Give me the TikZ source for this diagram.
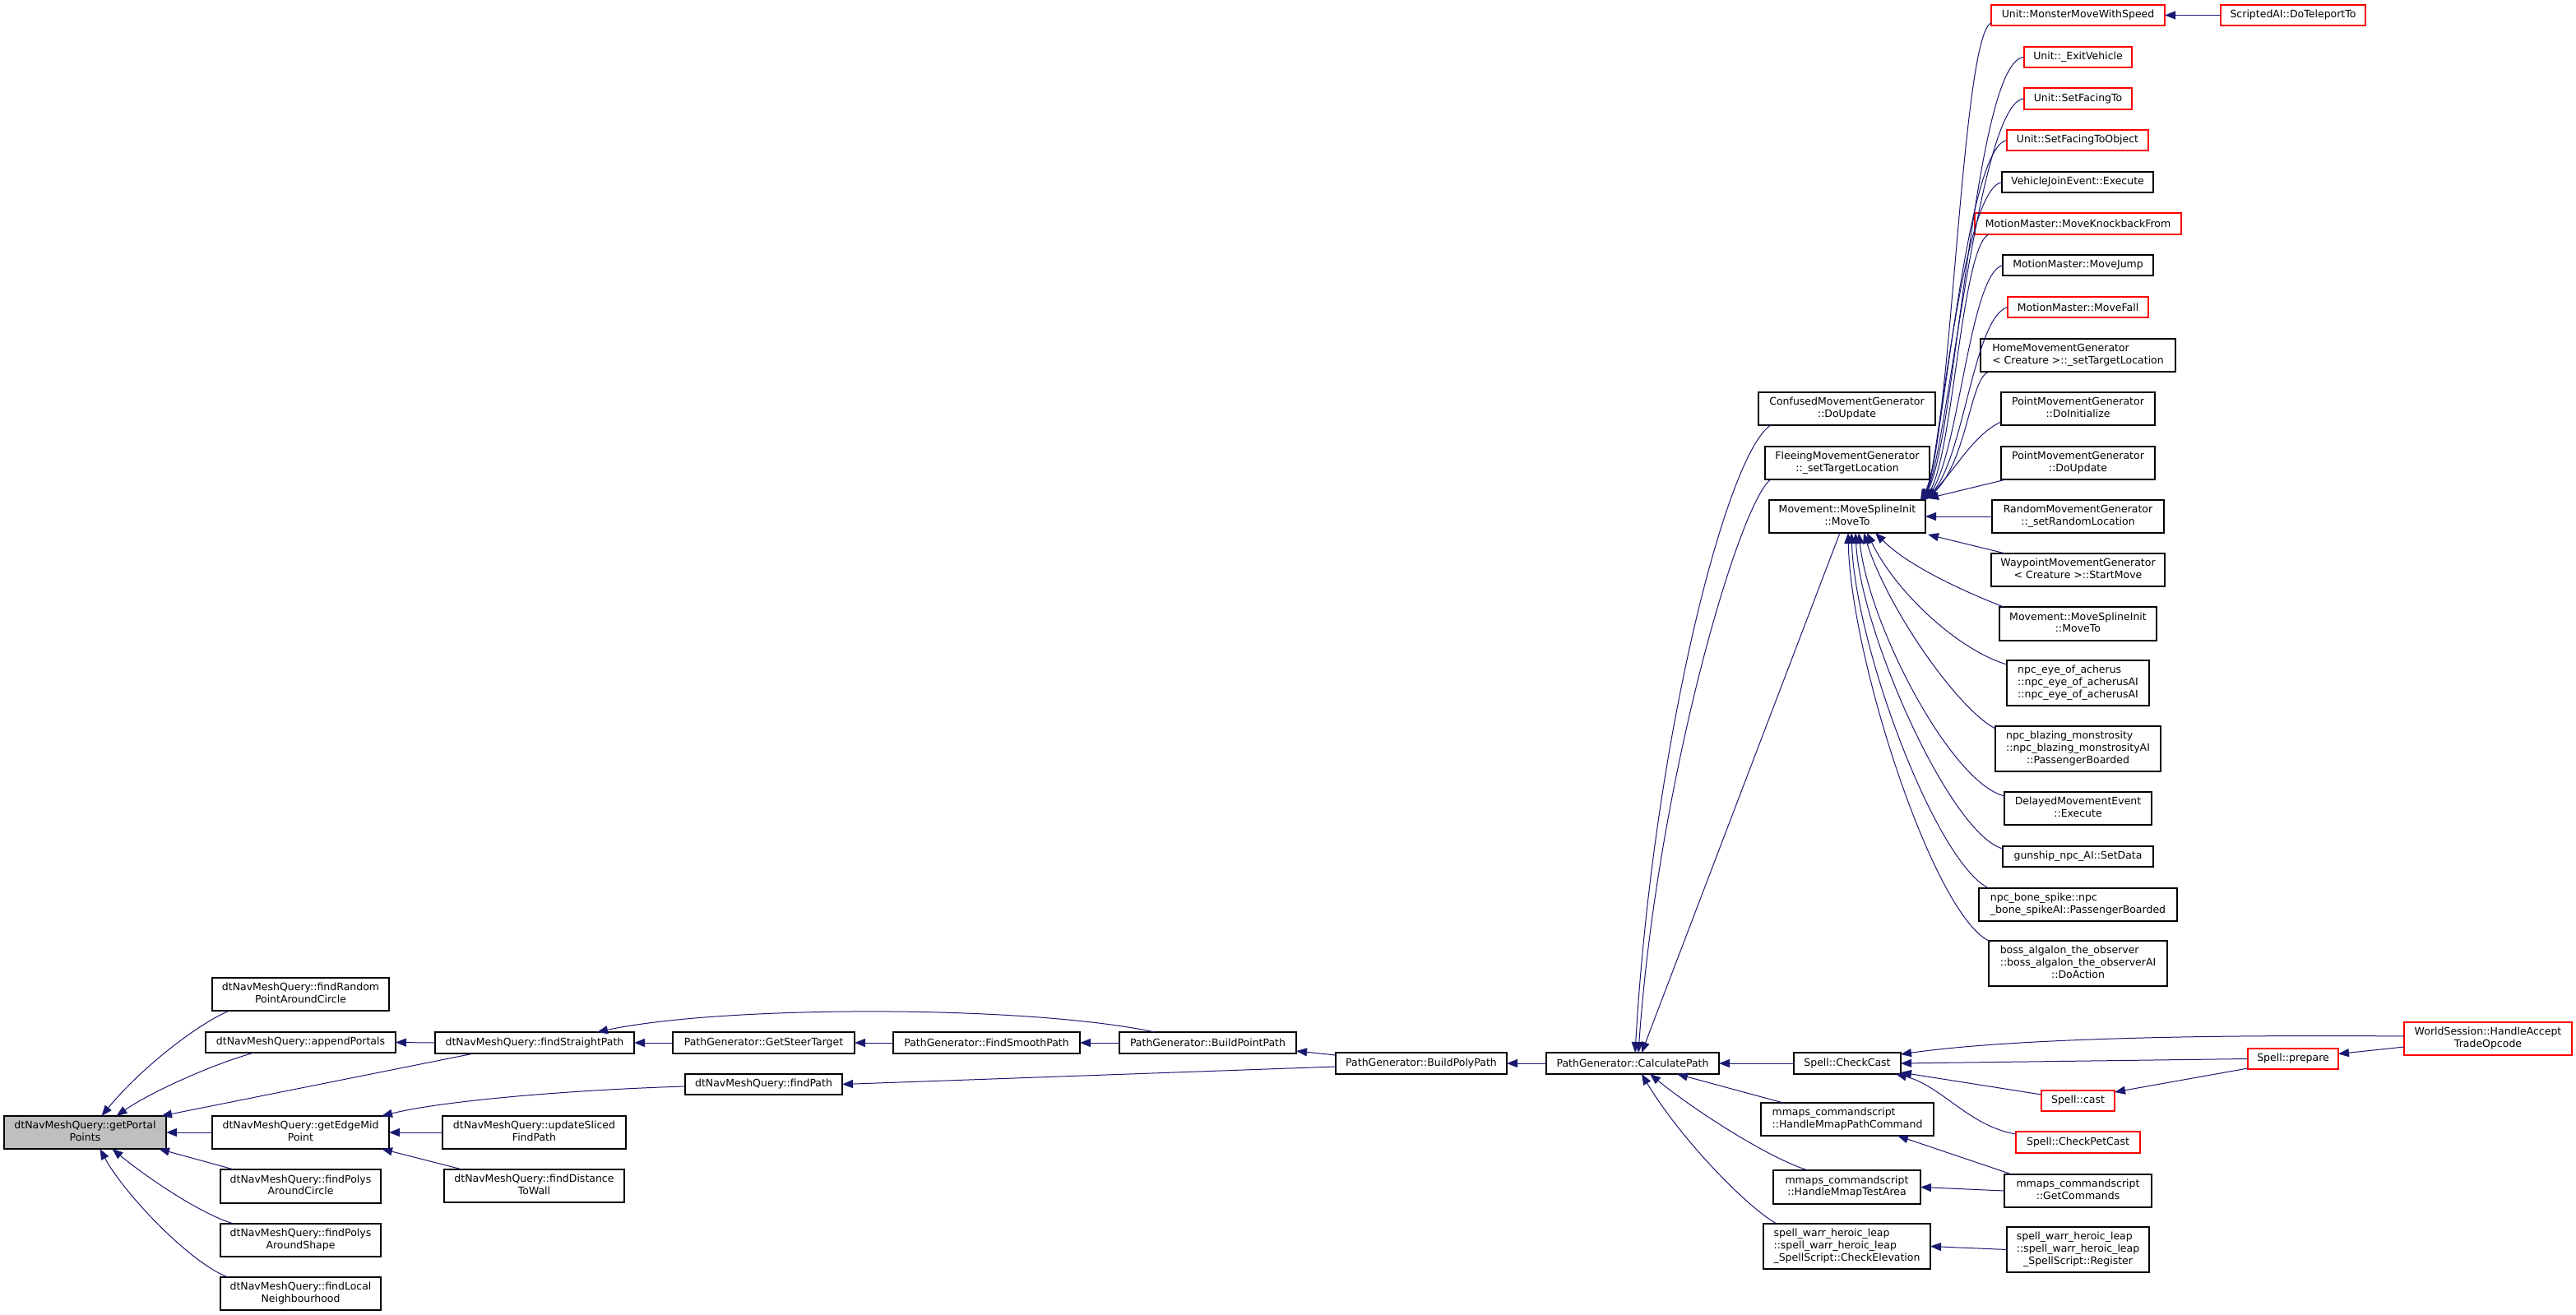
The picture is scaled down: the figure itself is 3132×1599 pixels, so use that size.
\documentclass[tikz,border=0pt]{standalone}
\usepackage{fontspec}
\setmainfont{DejaVu Sans}
\usetikzlibrary{arrows.meta,calc}
\definecolor{edgec}{HTML}{191970}
\definecolor{redb}{HTML}{FF0000}
\definecolor{rootfill}{HTML}{BFBFBF}
\newcommand\ml[2]{\begin{tabular}{@{}l@{}}#1\\\multicolumn{1}{@{}c@{}}{#2}\end{tabular}}
\newcommand\nd[7][nbox]{\node[#1,minimum width={(#5-#3)*0.5pt},minimum height={(#6-#4)*0.5pt}] (#2) at ({(#3+#5)/2},{(#4+#6)/2}) {#7};}
\begin{document}
\begin{tikzpicture}[x=0.5pt,y=-0.5pt,
  nbox/.style={draw=black,line width=0.65pt,fill=white,inner sep=0pt,outer sep=0pt,
    font=\fontsize{6.25}{7.35}\selectfont,text=black},
  redbox/.style={nbox,draw=redb},
  rootbox/.style={nbox,fill=rootfill},
  conn/.style={draw=edgec,line width=0.5pt,-{Triangle[length=6.5pt,width=5pt]}}]
\fill[white] (0,0) rectangle (3132,1599);
\useasboundingbox (0,0) rectangle (3132,1599);
% ---------- nodes ----------
\nd[rootbox]{A}{5}{1357}{202}{1397}{\ml{dtNavMeshQuery::getPortal}{Points}}
\nd{B1}{258}{1189}{473}{1229}{\ml{dtNavMeshQuery::findRandom}{PointAroundCircle}}
\nd{B2}{250}{1255}{481}{1280}{dtNavMeshQuery::appendPortals}
\nd{B3}{258}{1357}{473}{1397}{\ml{dtNavMeshQuery::getEdgeMid}{Point}}
\nd{B4}{268}{1422}{463}{1463}{\ml{dtNavMeshQuery::findPolys}{AroundCircle}}
\nd{B5}{268}{1488}{463}{1528}{\ml{dtNavMeshQuery::findPolys}{AroundShape}}
\nd{B6}{268}{1553}{463}{1593}{\ml{dtNavMeshQuery::findLocal}{Neighbourhood}}
\nd{C1}{529}{1255}{771}{1281}{dtNavMeshQuery::findStraightPath}
\nd{C2}{833}{1306}{1024}{1331}{dtNavMeshQuery::findPath}
\nd{C3}{538}{1357}{761}{1397}{\ml{dtNavMeshQuery::updateSliced}{FindPath}}
\nd{C4}{540}{1422}{759}{1462}{\ml{dtNavMeshQuery::findDistance}{ToWall}}
\nd{D}{818}{1255}{1039}{1281}{PathGenerator::GetSteerTarget}
\nd{E}{1086}{1255}{1313}{1281}{PathGenerator::FindSmoothPath}
\nd{F}{1361}{1255}{1576}{1281}{PathGenerator::BuildPointPath}
\nd{G}{1624}{1280}{1832}{1306}{PathGenerator::BuildPolyPath}
\nd{H}{1880}{1280}{2090}{1306}{PathGenerator::CalculatePath}
\nd{I1}{2138}{477}{2353}{517}{\ml{ConfusedMovementGenerator}{::DoUpdate}}
\nd{I2}{2146}{543}{2346}{583}{\ml{FleeingMovementGenerator}{::\_setTargetLocation}}
\nd{I3}{2151}{608}{2341}{648}{\ml{Movement::MoveSplineInit}{::MoveTo}}
\nd{I4}{2181}{1280}{2311}{1306}{Spell::CheckCast}
\nd{I5}{2141}{1341}{2351}{1381}{\ml{mmaps\_commandscript}{::HandleMmapPathCommand}}
\nd{I6}{2156}{1423}{2335}{1464}{\ml{mmaps\_commandscript}{::HandleMmapTestArea}}
\nd{I7}{2144}{1488}{2347}{1543}{\ml{spell\_warr\_heroic\_leap\\::spell\_warr\_heroic\_leap}{\_SpellScript::CheckElevation}}
\nd[redbox]{J1}{2421}{6}{2632}{31}{Unit::MonsterMoveWithSpeed}
\nd[redbox]{J2}{2461}{57}{2592}{82}{Unit::\_ExitVehicle}
\nd[redbox]{J3}{2461}{107}{2592}{133}{Unit::SetFacingTo}
\nd[redbox]{J4}{2440}{158}{2612}{183}{Unit::SetFacingToObject}
\nd{J5}{2434}{209}{2618}{234}{VehicleJoinEvent::Execute}
\nd[redbox]{J6}{2401}{259}{2652}{285}{MotionMaster::MoveKnockbackFrom}
\nd{J7}{2435}{310}{2618}{335}{MotionMaster::MoveJump}
\nd[redbox]{J8}{2441}{361}{2612}{386}{MotionMaster::MoveFall}
\nd{J9}{2408}{412}{2645}{452}{\ml{HomeMovementGenerator}{< Creature >::\_setTargetLocation}}
\nd{J10}{2433}{477}{2620}{517}{\ml{PointMovementGenerator}{::DoInitialize}}
\nd{J11}{2433}{543}{2620}{583}{\ml{PointMovementGenerator}{::DoUpdate}}
\nd{J12}{2422}{608}{2631}{648}{\ml{RandomMovementGenerator}{::\_setRandomLocation}}
\nd{J13}{2421}{673}{2632}{713}{\ml{WaypointMovementGenerator}{< Creature >::StartMove}}
\nd{J14}{2431}{738}{2622}{779}{\ml{Movement::MoveSplineInit}{::MoveTo}}
\nd{J15}{2440}{803}{2613}{858}{\ml{npc\_eye\_of\_acherus\\::npc\_eye\_of\_acherusAI}{::npc\_eye\_of\_acherusAI}}
\nd{J16}{2426}{883}{2627}{938}{\ml{npc\_blazing\_monstrosity\\::npc\_blazing\_monstrosityAI}{::PassengerBoarded}}
\nd{J17}{2437}{963}{2616}{1003}{\ml{DelayedMovementEvent}{::Execute}}
\nd{J18}{2435}{1029}{2618}{1054}{gunship\_npc\_AI::SetData}
\nd{J19}{2406}{1080}{2647}{1120}{\ml{npc\_bone\_spike::npc}{\_bone\_spikeAI::PassengerBoarded}}
\nd{J20}{2418}{1144}{2635}{1199}{\ml{boss\_algalon\_the\_observer\\::boss\_algalon\_the\_observerAI}{::DoAction}}
\nd[redbox]{K}{2700}{6}{2876}{31}{ScriptedAI::DoTeleportTo}
\nd{L}{2437}{1428}{2616}{1468}{\ml{mmaps\_commandscript}{::GetCommands}}
\nd{M}{2440}{1492}{2613}{1547}{\ml{spell\_warr\_heroic\_leap\\::spell\_warr\_heroic\_leap}{\_SpellScript::Register}}
\nd[redbox]{Q}{2482}{1326}{2571}{1351}{Spell::cast}
\nd[redbox]{R}{2451}{1376}{2602}{1402}{Spell::CheckPetCast}
\nd[redbox]{P}{2733}{1275}{2843}{1300}{Spell::prepare}
\nd[redbox]{W}{2923}{1243}{3127}{1283}{\ml{WorldSession::HandleAccept}{TradeOpcode}}
% ---------- edges: left part ----------
\draw[conn] (K.west) -- (J1.east);
\draw[conn] (C1.west) -- (B2.east);
\draw[conn] (D.west) -- (C1.east);
\draw[conn] (E.west) -- (D.east);
\draw[conn] (F.west) -- (E.east);
\draw[conn] (H.west) -- (G.east);
\draw[conn] (I4.west) -- (H.east);
\draw[conn] (B3.west) -- (A.east);
\draw[conn] (C3.west) -- (B3.east);
\draw[conn] ($(C4.north west)+(22,0)$) -- ($(B3.south east)+(-9,0)$);
\draw[conn] ($(B4.north west)+(16,0)$) -- ($(A.south east)+(-9,0)$);
\draw[conn] ($(B1.south west)+(21,0)$) .. controls (240,1245) and (170,1300) .. ($(A.north)+(20,0)$);
\draw[conn] ($(B2.south west)+(59,0)$) .. controls (255,1295) and (180,1330) .. ($(A.north)+(38,0)$);
\draw[conn] ($(C1.south west)+(47,0)$) -- ($(A.north east)+(-6,0)$);
\draw[conn] ($(B5.north west)+(16,0)$) .. controls (240,1475) and (170,1425) .. ($(A.south)+(33,0)$);
\draw[conn] ($(B6.north west)+(9,0)$) .. controls (230,1535) and (150,1450) .. ($(A.south)+(18,0)$);
\draw[conn] ($(F.north west)+(43,0)$) .. controls (1250,1222) and (880,1222) .. ($(C1.north east)+(-45,0)$);
\draw[conn] ($(C2.west)+(0,2.5)$) .. controls (700,1325) and (540,1338) .. ($(B3.north east)+(-9,0)$);
\draw[conn] ($(G.west)+(0,-10)$) -- ($(F.south east)+(0,-3)$);
\draw[conn] ($(G.west)+(0,4)$) -- (C2.east);
% ---------- edges into CalculatePath ----------
\draw[conn] ($(I5.north west)+(27,0)$) -- ($(H.south)+(54,0)$);
\draw[conn] ($(I6.north west)+(42,0)$) .. controls (2150,1408) and (2060,1350) .. ($(H.south)+(21,0)$);
\draw[conn] ($(I7.north west)+(16,0)$) .. controls (2120,1465) and (2040,1380) .. ($(H.south)+(11,0)$);
\draw[conn] ($(I1.south west)+(15,0)$) .. controls (2100,550) and (2010,900) .. ($(H.north)+(3,0)$);
\draw[conn] ($(I2.south west)+(7,0)$) .. controls (2115,610) and (2015,950) .. ($(H.north)+(7,0)$);
\draw[conn] ($(I3.south)+(-9,0)$) -- ($(H.north)+(11,0)$);
% ---------- edges into CheckCast and others ----------
\draw[conn] ($(W.west)+(0,-3)$) .. controls (2700,1258) and (2450,1262) .. ($(I4.north east)+(0,2)$);
\draw[conn] (P.west) -- (I4.east);
\draw[conn] ($(Q.north west)+(0,5)$) -- ($(I4.south east)+(0,-2)$);
\draw[conn] ($(R.west)+(0,-10)$) .. controls (2395,1370) and (2360,1320) .. ($(I4.south east)+(-6,0)$);
\draw[conn] ($(P.south west)+(0,-1)$) -- ($(Q.north east)+(0,2)$);
\draw[conn] ($(W.west)+(0,10)$) -- ($(P.east)+(0,-6)$);
\draw[conn] (L.west) -- (I6.east);
\draw[conn] ($(L.north west)+(9,0)$) -- ($(I5.south east)+(-44,0)$);
\draw[conn] (M.west) -- (I7.east);
% ---------- edges into MoveTo ----------
\draw[conn] (J12.west) -- (I3.east);
\draw[conn] ($(J11.south west)+(6,0)$) -- ($(I3.north east)+(3,-2)$);
\draw[conn] ($(J13.north west)+(17,0)$) -- ($(I3.south east)+(3,2)$);
\draw[conn] ($(J1.south west)+(0,-3)$) .. controls (2385,40) and (2372,540) .. ($(I3.north east)+(-6,0)$);
\draw[conn] (J2.west) .. controls (2400,72) and (2378,545) .. ($(I3.north east)+(-5,0)$);
\draw[conn] (J3.west) .. controls (2405,122) and (2368,550) .. ($(I3.north east)+(-4,0)$);
\draw[conn] (J4.west) .. controls (2390,178) and (2362,550) .. ($(I3.north east)+(-3,0)$);
\draw[conn] (J5.west) .. controls (2385,230) and (2358,555) .. ($(I3.north east)+(-2,0)$);
\draw[conn] ($(J6.south west)+(17,0)$) .. controls (2385,300) and (2375,550) .. ($(I3.north east)+(-1,0)$);
\draw[conn] (J7.west) .. controls (2395,332) and (2382,550) .. ($(I3.north east)+(0,0)$);
\draw[conn] (J8.west) .. controls (2400,385) and (2388,555) .. ($(I3.north east)+(1,-1)$);
\draw[conn] ($(J9.south west)+(10,0)$) .. controls (2395,460) and (2392,560) .. ($(I3.north east)+(2,-1)$);
\draw[conn] ($(J10.south west)+(0,-4)$) .. controls (2400,528) and (2378,570) .. ($(I3.north east)+(2,-2)$);
\draw[conn] ($(J14.north west)+(5,0)$) .. controls (2385,718) and (2320,688) .. ($(I3.south)+(34,0)$);
\draw[conn] ($(J15.north west)+(0,5)$) .. controls (2380,790) and (2305,720) .. ($(I3.south)+(24,0)$);
\draw[conn] ($(J16.north west)+(0,3)$) .. controls (2380,862) and (2295,740) .. ($(I3.south)+(20,0)$);
\draw[conn] ($(J17.north west)+(0,5)$) .. controls (2372,952) and (2272,760) .. ($(I3.south)+(14,0)$);
\draw[conn] ($(J18.north west)+(0,3)$) .. controls (2372,1015) and (2262,770) .. ($(I3.south)+(10,0)$);
\draw[conn] ($(J19.north west)+(12,0)$) .. controls (2355,1050) and (2256,790) .. ($(I3.south)+(5,0)$);
\draw[conn] (J20.north west) .. controls (2350,1110) and (2250,800) .. ($(I3.south)+(1,0)$);
\end{tikzpicture}
\end{document}
